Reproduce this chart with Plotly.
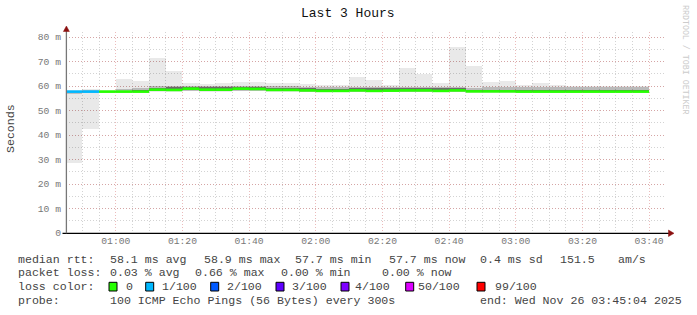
import plotly.graph_objects as go
import pandas as pd

# ---------------- data ----------------
interval_start = "2025-11-26 00:45:00"
n_intervals = 35
view_start = "2025-11-26 00:45:04"
view_end = "2025-11-26 03:45:04"

rtt_min = [28.7, 42.4, 57.3, 57.3, 57.3, 57.6, 57.6, 57.8, 57.7, 57.7, 57.8, 57.8, 57.6, 57.6, 57.5, 57.4, 57.4, 57.5,
           57.4, 57.4, 57.5, 57.5, 57.4, 57.5, 57.3, 57.3, 57.3, 57.3, 57.3, 57.3, 57.3, 57.3, 57.3, 57.3, 57.3]
rtt_p10 = [56.8, 57.0, 57.4, 57.4, 57.4, 57.8, 57.8, 58.0, 57.9, 57.9, 58.0, 58.0, 57.8, 57.8, 57.7, 57.6, 57.6, 57.7,
           57.6, 57.6, 57.7, 57.7, 57.6, 57.7, 57.5, 57.4, 57.4, 57.4, 57.4, 57.4, 57.4, 57.4, 57.4, 57.4, 57.4]
rtt_p25 = [57.4, 57.4, 57.5, 57.5, 57.6, 58.0, 58.1, 58.2, 58.1, 58.1, 58.2, 58.2, 58.0, 58.0, 57.9, 57.8, 57.8, 57.9,
           57.8, 57.8, 57.9, 57.9, 57.8, 57.9, 57.6, 57.6, 57.6, 57.5, 57.5, 57.5, 57.5, 57.5, 57.5, 57.5, 57.5]
rtt_median = [57.7, 57.7, 57.7, 57.7, 57.7, 58.5, 58.4, 58.9, 58.5, 58.5, 58.9, 58.8, 58.4, 58.4, 58.2, 58.0, 58.0, 58.2,
              58.0, 58.1, 58.2, 58.2, 58.0, 58.2, 57.8, 57.8, 57.8, 57.7, 57.7, 57.7, 57.7, 57.7, 57.7, 57.7, 57.7]
rtt_p75 = [57.9, 58.0, 57.9, 58.0, 58.3, 59.3, 59.4, 59.5, 59.4, 59.4, 59.6, 59.6, 59.3, 59.3, 59.0, 58.8, 58.8, 59.0,
           59.1, 59.0, 59.1, 59.1, 59.0, 59.1, 58.4, 58.4, 58.4, 58.3, 58.3, 58.3, 58.3, 58.3, 58.3, 58.4, 58.4]
rtt_p90 = [58.0, 58.3, 58.1, 58.6, 59.2, 59.8, 59.9, 60.0, 59.9, 60.0, 60.2, 60.1, 59.8, 59.8, 59.6, 59.4, 59.4, 59.6,
           59.7, 59.6, 59.7, 59.7, 59.6, 59.7, 59.3, 59.4, 59.5, 59.4, 59.5, 59.4, 59.4, 59.5, 59.5, 59.6, 59.6]
rtt_max = [58.2, 58.8, 58.3, 63.0, 62.2, 71.4, 66.3, 61.2, 60.8, 61.2, 61.6, 61.6, 61.2, 61.2, 60.8, 60.3, 60.3, 63.7,
           62.4, 60.3, 67.3, 64.9, 61.2, 75.9, 68.3, 61.6, 62.2, 60.4, 61.2, 60.4, 60.2, 60.0, 60.0, 60.0, 60.2]
loss = [1, 1] + [0] * 33

loss_levels = [0, 1, 2, 3, 4, 50, 99]
loss_labels = ["0", "1/100", "2/100", "3/100", "4/100", "50/100", "99/100"]
loss_colors = ["#26ff00", "#00b8ff", "#0059ff", "#5e00ff", "#7e00ff", "#dd00ff", "#ff0000"]

y_tickvals = [0, 10, 20, 30, 40, 50, 60, 70, 80]
y_ticktext = ["0", "10 m", "20 m", "30 m", "40 m", "50 m", "60 m", "70 m", "80 m"]

title_text = "Last 3 Hours"
y_title = "Seconds"
watermark = "RRDTOOL / TOBI OETIKER"
row1 = [("median rtt:", 16), ("58.1 ms avg", 108.3), ("58.9 ms max", 201.7), ("57.7 ms min", 293.3),
        ("57.7 ms now", 386.7), ("0.4 ms sd", 478.3), ("151.5", 558.3), ("am/s", 616)]
row2 = [("packet loss:", 16), ("0.03 % avg", 108.3), ("0.66 % max", 193.3), ("0.00 % min", 279.3),
        ("0.00 % now", 380)]
row4 = [("probe:", 16), ("100 ICMP Echo Pings (56 Bytes) every 300s", 108.3),
        ("end: Wed Nov 26 03:45:04 2025", 478)]
loss_row_label = ("loss color:", 16)
loss_sq_x = [109, 145.7, 210.7, 276, 341, 405.7, 477]
loss_txt_x = [124, 160, 225, 290, 353.3, 416, 492.7]

# ---------------- geometry helpers ----------------
W, H = 697, 315
L, R, T, B = 66, 31, 32, 82
PW, PH = W - L - R, H - T - B


def fx(px):
    return (px - L) / PW


def fy(py):
    return (H - B - py) / PH


MONO = "Liberation Mono, DejaVu Sans Mono, monospace"

t_start = pd.date_range(pd.Timestamp(interval_start), periods=n_intervals, freq="5min")
t_center = t_start + pd.Timedelta(minutes=2.5)
t_end = t_start + pd.Timedelta(minutes=5)
bar_w = 5 * 60 * 1000

fig = go.Figure()

# smoke bands (non-overlapping segments, translucent so grid shows through)
bands = [
    (rtt_min, rtt_p10, "rgba(0,0,0,0.085)"),
    (rtt_p10, rtt_p25, "rgba(0,0,0,0.25)"),
    (rtt_p25, rtt_p75, "rgba(0,0,0,0.58)"),
    (rtt_p75, rtt_p90, "rgba(0,0,0,0.27)"),
    (rtt_p90, rtt_max, "rgba(0,0,0,0.085)"),
]
for lo, hi, col in bands:
    fig.add_trace(go.Bar(
        x=t_center, base=lo, y=[h - l for l, h in zip(lo, hi)], width=bar_w,
        marker=dict(color=col, line=dict(width=0)), hoverinfo="skip"))

# median line coloured by loss
for lvl, col in zip(loss_levels, loss_colors):
    xs, ys = [], []
    for i in range(n_intervals):
        if loss[i] == lvl:
            xs += [t_start[i], t_end[i], None]
            ys += [rtt_median[i], rtt_median[i], None]
    if xs:
        fig.add_trace(go.Scatter(x=xs, y=ys, mode="lines", line=dict(color=col, width=2.6),
                                 hoverinfo="skip"))

GRID_MAJ = "rgba(215,120,120,0.5)"
GRID_MIN = "rgba(175,175,175,0.55)"
DASH = "1px,2px"

fig.update_layout(
    width=W, height=H,
    margin=dict(l=L, r=R, t=T, b=B, pad=0),
    paper_bgcolor="white", plot_bgcolor="white",
    showlegend=False, barmode="overlay", bargap=0,
    xaxis=dict(
        type="date", range=[view_start, view_end],
        tick0="2025-11-26 00:00:00", dtick=20 * 60 * 1000, tickformat="%H:%M",
        showgrid=True, gridcolor=GRID_MAJ, griddash=DASH, gridwidth=1,
        minor=dict(tickmode="linear", tick0="2025-11-26 00:00:00", dtick=5 * 60 * 1000,
                   showgrid=True, gridcolor=GRID_MIN, griddash=DASH, gridwidth=1),
        showline=False, zeroline=False, ticks="",
        tickfont=dict(family=MONO, size=9.7, color="#777"),
    ),
    yaxis=dict(
        range=[0, 82.04], tickmode="array", tickvals=y_tickvals, ticktext=y_ticktext,
        showgrid=True, gridcolor=GRID_MAJ, griddash=DASH, gridwidth=1,
        minor=dict(tickmode="linear", tick0=0, dtick=5,
                   showgrid=True, gridcolor=GRID_MIN, griddash=DASH, gridwidth=1),
        showline=False, zeroline=False, ticks="", ticklabelstandoff=4,
        tickfont=dict(family=MONO, size=9.7, color="#777"),
    ),
)

shapes = []
# axes lines
shapes.append(dict(type="line", xref="paper", yref="paper", x0=fx(62.5), x1=fx(669), y0=fy(233.3), y1=fy(233.3),
                   line=dict(color="black", width=1.3)))
shapes.append(dict(type="line", xref="paper", yref="paper", x0=fx(66.4), x1=fx(66.4), y0=fy(233.3), y1=fy(30),
                   line=dict(color="#777", width=1.3)))
# arrows
ARW = "#8b1010"
shapes.append(dict(type="path", xref="paper", yref="paper",
                   path=f"M {fx(668.5)},{fy(230)} L {fx(674)},{fy(233.3)} L {fx(668.5)},{fy(236.5)} Z",
                   fillcolor=ARW, line=dict(color=ARW, width=0.5)))
shapes.append(dict(type="path", xref="paper", yref="paper",
                   path=f"M {fx(63.4)},{fy(31.5)} L {fx(66.4)},{fy(26)} L {fx(69.4)},{fy(31.5)} Z",
                   fillcolor=ARW, line=dict(color=ARW, width=0.5)))
# loss colour squares
for sx, col in zip(loss_sq_x, loss_colors):
    shapes.append(dict(type="rect", xref="paper", yref="paper", x0=fx(sx), x1=fx(sx + 8),
                       y0=fy(291), y1=fy(282.3), fillcolor=col, line=dict(color="black", width=1)))
fig.update_layout(shapes=shapes)

ann = []
NB = "\u00a0"


def txt(s, px, py, size=11.6, color="#444", **kw):
    ann.append(dict(text=s.replace(" ", NB), xref="paper", yref="paper", x=fx(px), y=fy(py),
                    xanchor=kw.pop("xanchor", "left"), yanchor="middle", showarrow=False,
                    font=dict(family=MONO, size=size, color=color), **kw))


txt(title_text, 348, 13, size=13, color="#111", xanchor="center")
txt(y_title, 10, 129, size=11.6, color="#444", xanchor="center", textangle=-90)
txt(watermark, 686, 60, size=8.3, color="#cccccc", xanchor="center", textangle=90)
for s, px in row1:
    txt(s, px, 259.5)
for s, px in row2:
    txt(s, px, 272.7)
txt(loss_row_label[0], loss_row_label[1], 286.5)
for s, px in zip(loss_labels, loss_txt_x):
    txt(s, px, 286.5)
for s, px in row4:
    txt(s, px, 300)
fig.update_layout(annotations=ann)

fig.write_html("out.html")
